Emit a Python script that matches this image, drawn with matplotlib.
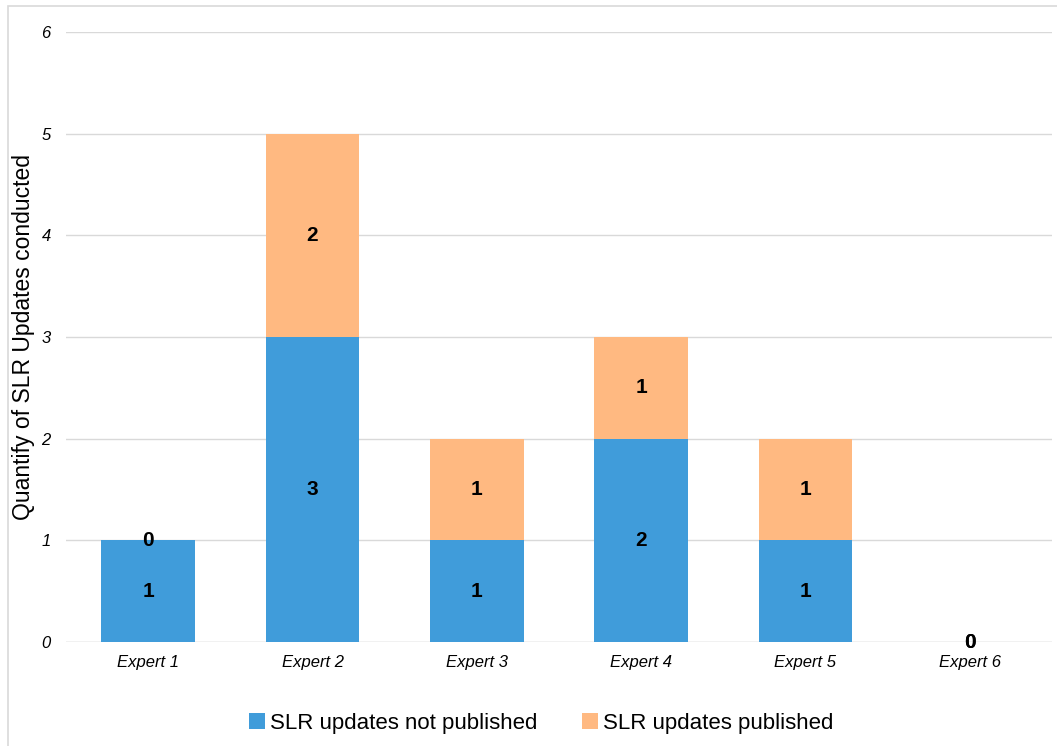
import matplotlib.pyplot as plt
import numpy as np
from matplotlib.patches import Rectangle

plt.rcParams['font.family'] = ['Liberation Sans', 'DejaVu Sans']

# Daten
experts = ['Expert 1', 'Expert 2', 'Expert 3', 'Expert 4', 'Expert 5', 'Expert 6']
not_published = [1, 3, 1, 2, 1, 0]
published = [0, 2, 1, 1, 1, 0]
y_ticks = [0, 1, 2, 3, 4, 5, 6]

color_blue = '#409CDA'
color_orange = '#FFB981'

fig = plt.figure(figsize=(10.57, 7.46), dpi=100)
W, H = 1057, 746
ax = fig.add_axes([66 / W, 1 - 642 / H, (1052 - 66) / W, (642 - 32) / H])

# Rahmen um das Diagramm
fig.patches.append(Rectangle((8 / W, -0.05), 1.2, 1 - 6 / H + 0.05, transform=fig.transFigure,
                             fill=False, edgecolor='#D9D9D9', linewidth=1.2))

x = np.arange(len(experts))
bw = 0.57
b1 = ax.bar(x, not_published, bw, color=color_blue, label='SLR updates not published', zorder=3)
b2 = ax.bar(x, published, bw, bottom=not_published, color=color_orange,
            label='SLR updates published', zorder=3)

for bars in (b1, b2):
    ax.bar_label(bars, label_type='center', fontsize=15, fontweight='bold', color='black', zorder=4)

ax.set_xlim(-0.5, len(experts) - 0.5)
ax.set_ylim(0, 6)
ax.set_yticks(y_ticks)
ax.set_yticklabels([str(t) for t in y_ticks], fontsize=12, fontstyle='italic')
ax.set_xticks(x)
ax.set_xticklabels(experts, fontsize=12, fontstyle='italic')
ax.tick_params(axis='both', length=0, colors='black')
ax.tick_params(axis='y', pad=11)
ax.tick_params(axis='x', pad=9)

ax.grid(axis='y', color='#D9D9D9', linewidth=1, zorder=0)
for spine in ax.spines.values():
    spine.set_visible(False)
ax.axhline(0, color='#D9D9D9', linewidth=1, zorder=1)

ax.set_ylabel('Quantify of SLR Updates conducted', fontsize=16.5)
ax.yaxis.set_label_coords(-31 / (1052 - 66), 0.5)

fig.legend(handles=[b1, b2], loc='center', bbox_to_anchor=(0.5 + 13 / W, 1 - 723 / H), ncol=2,
           frameon=False, fontsize=16, handlelength=0.7, handleheight=0.7,
           handletextpad=0.25, columnspacing=2.0)

plt.savefig('out.png', dpi=100)
